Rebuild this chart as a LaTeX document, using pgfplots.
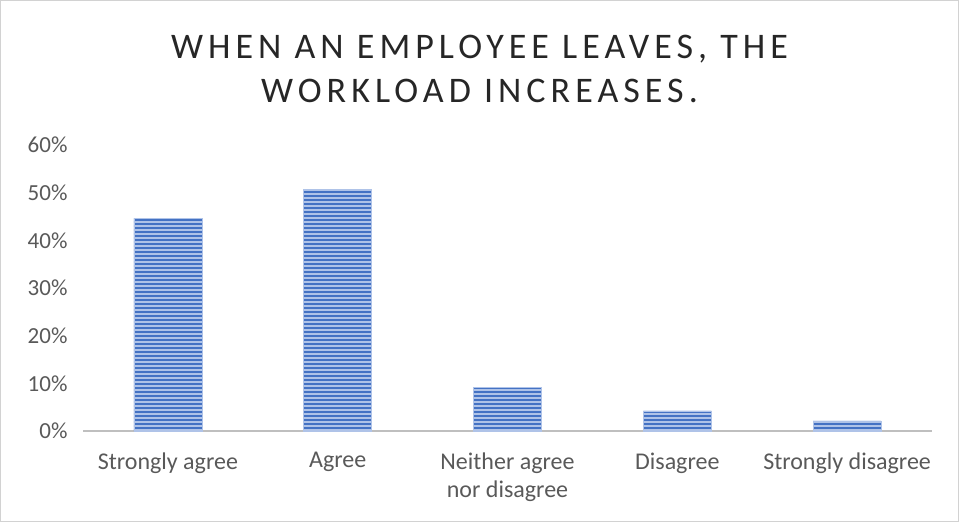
\documentclass[border=0pt]{standalone}
\usepackage{fontspec}
\setmainfont{Carlito}
\newfontfamily\titlefont[LetterSpace=14]{Carlito}
\usepackage{pgfplots}
\pgfplotsset{compat=1.18}
\usetikzlibrary{patterns.meta}
\definecolor{barblue}{RGB}{68,114,196}
\definecolor{stripe}{RGB}{175,195,232}
\definecolor{txt}{RGB}{89,89,89}
\definecolor{axgray}{RGB}{191,191,191}
\begin{document}
\begin{tikzpicture}
\useasboundingbox (0,0) rectangle (959bp,522bp);
\draw[draw=axgray!70, line width=1bp] (0.5bp,0.5bp) rectangle (958.5bp,521.5bp);
\node[text=black!85, align=center, font=\titlefont\fontsize{36bp}{44bp}\selectfont] at (479.5bp,522bp-69bp) {WHEN AN EMPLOYEE LEAVES, THE\\WORKLOAD INCREASES.};
\begin{axis}[
  at={(83bp,91bp)}, anchor=south west,
  scale only axis, width=849bp, height=286bp,
  xmin=-0.5, xmax=4.5, ymin=0, ymax=60,
  ytick={0,10,...,60},
  yticklabel={\pgfmathprintnumber{\tick}\%},
  /pgf/number format/assume math mode=true,
  xtick={0,1,2,3,4},
  xticklabels={Strongly agree, Agree, Neither agree\\nor disagree, Disagree, Strongly disagree},
  xticklabel style={align=center, text=txt, font=\fontsize{24bp}{28bp}\selectfont, yshift=-18bp},
  yticklabel style={text=txt, font=\fontsize{23bp}{26bp}\selectfont, xshift=-12bp},
  axis y line*=left,
  y axis line style={draw=none},
  axis x line*=bottom,
  x axis line style={draw=axgray, line width=2.5bp, -},
  major tick length=0pt,
  ybar, bar width=68bp,
  clip=false,
]
\addplot[draw=stripe, line width=0.6bp, fill=barblue,
  postaction={pattern={Lines[angle=0,distance=4bp,line width=1.2bp]}, pattern color=stripe}]
  coordinates {(0,44.6) (1,50.7) (2,9.2) (3,4.2) (4,2.1)};
\end{axis}
\end{tikzpicture}
\end{document}
